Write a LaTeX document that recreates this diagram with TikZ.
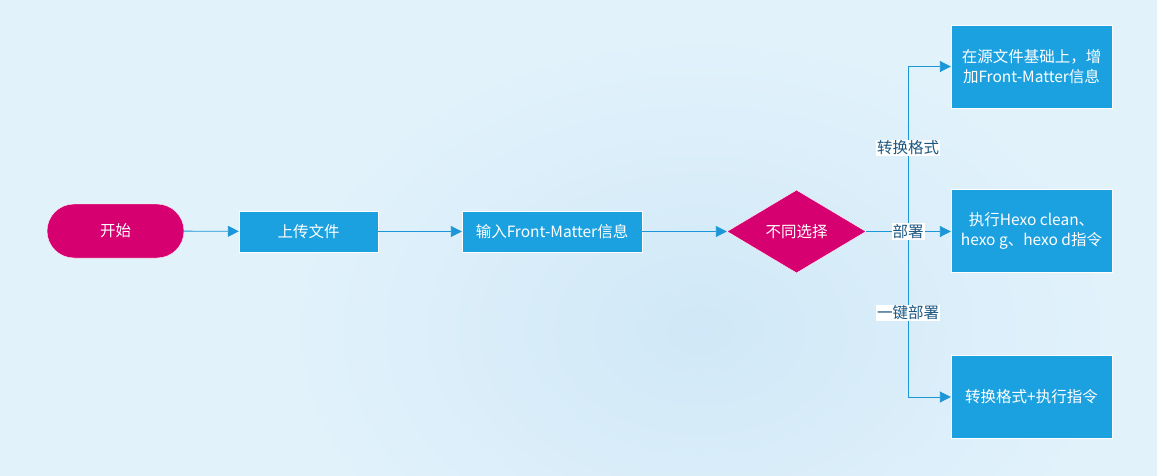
\documentclass[tikz,border=0pt]{standalone}
\usepackage{fontspec}
\setmainfont{Noto Sans CJK SC}
\usepackage{tikz}
\usetikzlibrary{positioning,arrows.meta,shapes.geometric}
\definecolor{boxblue}{RGB}{28,161,224}
\definecolor{linkblue}{RGB}{27,150,215}
\definecolor{startred}{RGB}{215,0,112}
\definecolor{labeltext}{RGB}{28,88,130}
\definecolor{bgouter}{RGB}{226,242,251}
\definecolor{bginner}{RGB}{208,232,247}
\tikzset{
  flowarrow/.style={-{Triangle[length=11pt,width=11pt]}, draw=linkblue, line width=0.9pt},
  startnode/.style={draw=white, fill=startred, rounded corners=27pt, minimum width=137pt, minimum height=54pt, text=white},
  stepbox/.style={draw=white, fill=boxblue, minimum height=41pt, text=white},
  choicebox/.style={diamond, draw=white, fill=startred, minimum width=139pt, minimum height=83pt, aspect=1.67, inner sep=0pt, text=white},
  resultbox/.style={draw=white, fill=boxblue, minimum width=161pt, minimum height=83pt, align=center, text=white},
  relabel/.style={fill=white, inner sep=1pt, text=labeltext, font=\fontsize{15.5pt}{17pt}\selectfont}
}

\begin{document}
\begin{tikzpicture}[x=1pt, y=-1pt, every node/.style={font=\fontsize{15.5pt}{20pt}\selectfont}]
      % background
      \useasboundingbox (0,0) rectangle (1157,476);
      \fill[bgouter] (0,0) rectangle (1157,476);
      \shade[inner color=bginner, outer color=bgouter] (700,330) ellipse (420pt and 300pt);
      % main row
      \node[startnode] (start) at (115.5,231) {开始};
      \node[stepbox, minimum width=139pt] (upload) at (308.5,231.5) {上传文件};
      \node[stepbox, minimum width=180pt] (input) at (552,231.5) {输入Front-Matter信息};
      \node[choicebox] (choice) at (796.5,231.5) {不同选择};
      % results
      \node[resultbox] (convert) at (1031.5,66.5) {在源文件基础上，增\\加Front-Matter信息};
      \node[resultbox] (deploy) at (1031.5,231) {执行Hexo clean、\\hexo g、hexo d指令};
      \node[resultbox] (onekey) at (1031.5,397) {转换格式+执行指令};
      \coordinate (jn) at (908,231.5);
      % connectors
      \draw[flowarrow] (start) -- (upload);
      \draw[flowarrow] (upload) -- (input);
      \draw[flowarrow] (input) -- (choice);
      \draw[flowarrow] (choice.east) -- (deploy.west |- choice.east);
      \draw[flowarrow] (jn) |- node[relabel, pos=0.254] {转换格式} (convert.west);
      \draw[flowarrow] (jn) |- node[relabel, pos=0.246] {一键部署} (onekey.west);
      \node[relabel] (deploylabel) at (jn) {部署};
    \end{tikzpicture}
\end{document}
